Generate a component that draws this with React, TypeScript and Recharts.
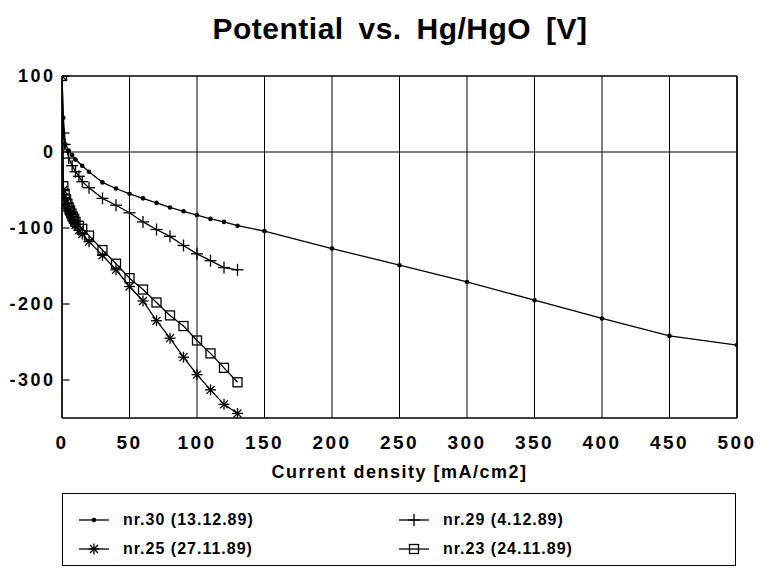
import { LineChart, Line, XAxis, YAxis, CartesianGrid, ReferenceLine } from "recharts"

const FONT = '"Liberation Sans", Arial, Helvetica, sans-serif'

// current density [mA/cm2] and potential [mV] per cell
const nr30X = [0, 1, 2.5, 5, 7.5, 10, 15, 20, 30, 40, 50, 60, 70, 80, 90, 100, 110, 120, 130, 150, 200, 250, 300, 350, 400, 450, 500]
const nr30Y = [100, 45, 10, 2, -4, -10, -18, -26, -40, -48, -55, -61, -67, -73, -78, -83, -88, -92, -97, -104, -127, -149, -171, -195, -219, -242, -254]

const nr29X = [0, 1, 2, 5, 7.5, 10, 12.5, 15, 20, 30, 40, 50, 60, 70, 80, 90, 100, 110, 120, 130]
const nr29Y = [100, 25, 10, -8, -18, -26, -32, -39, -47, -61, -70, -80, -92, -102, -111, -123, -134, -143, -152, -155]

const nr25X = [0, 1, 2, 3, 4, 5, 6, 7, 8, 9, 10, 12.5, 15, 20, 30, 40, 50, 60, 70, 80, 90, 100, 110, 120, 130]
const nr25Y = [100, -50, -60, -67, -72, -77, -81, -85, -89, -92, -96, -103, -108, -118, -136, -155, -177, -196, -222, -245, -270, -293, -313, -332, -344]

const nr23X = [0, 1, 2, 3, 4, 5, 6, 7, 8, 9, 10, 12.5, 15, 20, 30, 40, 50, 60, 70, 80, 90, 100, 110, 120, 130]
const nr23Y = [100, -45, -55, -62, -68, -73, -77, -81, -85, -88, -92, -97, -101, -110, -129, -147, -166, -181, -198, -215, -229, -248, -265, -284, -303]

const xTicks = [0, 50, 100, 150, 200, 250, 300, 350, 400, 450, 500]
const yTicks = [100, 0, -100, -200, -300]

const toPoints = (xs: number[], ys: number[]) => xs.map((x, i) => ({ x, y: ys[i] }))

type MarkProps = { cx?: number; cy?: number }

function DotMark({ cx = 0, cy = 0 }: MarkProps) {
  return <circle cx={cx} cy={cy} r={2.3} fill="#000" />
}

function PlusMark({ cx = 0, cy = 0 }: MarkProps) {
  const s = 6
  return (
    <g stroke="#000" strokeWidth={1.3}>
      <line x1={cx - s} x2={cx + s} y1={cy} y2={cy} />
      <line x1={cx} x2={cx} y1={cy - s} y2={cy + s} />
    </g>
  )
}

function StarMark({ cx = 0, cy = 0 }: MarkProps) {
  const s = 5.5
  const d = s * 0.72
  return (
    <g stroke="#000" strokeWidth={1.3}>
      <line x1={cx - s} x2={cx + s} y1={cy} y2={cy} />
      <line x1={cx} x2={cx} y1={cy - s} y2={cy + s} />
      <line x1={cx - d} x2={cx + d} y1={cy - d} y2={cy + d} />
      <line x1={cx - d} x2={cx + d} y1={cy + d} y2={cy - d} />
    </g>
  )
}

function SquareMark({ cx = 0, cy = 0 }: MarkProps) {
  return <rect x={cx - 4.5} y={cy - 4.5} width={9} height={9} fill="none" stroke="#000" strokeWidth={1.3} />
}

function YTick(props: any) {
  const { x, y, payload } = props
  return (
    <g>
      <text x={x} y={y} dy="0.355em" textAnchor="end" fontFamily={FONT} fontWeight="bold" fontSize={18} letterSpacing={2.5} fill="#000">
        {payload.value}
      </text>
      <line x1={x + 6.5} x2={x + 14} y1={y} y2={y} stroke="#000" strokeWidth={1.2} />
    </g>
  )
}

const series = [
  { name: "nr.30 (13.12.89)", xs: nr30X, ys: nr30Y, Mark: DotMark },
  { name: "nr.29 (4.12.89)", xs: nr29X, ys: nr29Y, Mark: PlusMark },
  { name: "nr.25 (27.11.89)", xs: nr25X, ys: nr25Y, Mark: StarMark },
  { name: "nr.23 (24.11.89)", xs: nr23X, ys: nr23Y, Mark: SquareMark },
]

function LegendItem({ name, Mark, left, top }: { name: string; Mark: (p: MarkProps) => any; left: number; top: number }) {
  return (
    <div style={{ position: "absolute", left, top, display: "flex", alignItems: "center", height: 20 }}>
      <svg width={32} height={16}>
        <line x1={1} x2={31} y1={8} y2={8} stroke="#000" strokeWidth={1.3} />
        <Mark cx={16} cy={8} />
      </svg>
      <span style={{ marginLeft: 13, fontFamily: FONT, fontWeight: "bold", fontSize: 16, letterSpacing: 1, color: "#000" }}>{name}</span>
    </div>
  )
}

export default function App() {
  return (
    <div style={{ position: "absolute", left: 0, top: 0, width: 760, height: 576, background: "#fff", overflow: "hidden" }}>
      <div
        style={{
          position: "absolute",
          left: 100,
          width: 600,
          top: 12,
          textAlign: "center",
          fontFamily: FONT,
          fontWeight: "bold",
          fontSize: 30,
          letterSpacing: 0.5,
          wordSpacing: 6,
          color: "#000",
        }}
      >
        Potential vs. Hg/HgO [V]
      </div>

      <LineChart width={760} height={576} margin={{ top: 76, right: 23, bottom: 98, left: 0 }}>
        <CartesianGrid vertical horizontal={false} stroke="#000" strokeWidth={1} />
        <XAxis
          type="number"
          dataKey="x"
          domain={[0, 500]}
          ticks={xTicks}
          allowDataOverflow
          height={60}
          tickSize={0}
          tickMargin={18}
          tickLine={false}
          axisLine={{ stroke: "#000", strokeWidth: 1.5 }}
          tick={{ fontFamily: FONT, fontWeight: "bold", fontSize: 19, letterSpacing: 2.5, fill: "#000" }}
          label={{
            value: "Current density [mA/cm2]",
            position: "insideBottom",
            offset: 0,
            style: { fontFamily: FONT, fontWeight: "bold", fontSize: 18, letterSpacing: 1.5, fill: "#000" },
          }}
        />
        <YAxis
          type="number"
          domain={[-350, 100]}
          ticks={yTicks}
          allowDataOverflow
          width={62}
          tickSize={0}
          tickMargin={6.5}
          tickLine={false}
          axisLine={{ stroke: "#000", strokeWidth: 1.5 }}
          tick={<YTick />}
        />
        <ReferenceLine y={100} stroke="#000" strokeWidth={1.5} />
        <ReferenceLine y={0} stroke="#000" strokeWidth={1.2} />
        <ReferenceLine x={500} stroke="#000" strokeWidth={1.5} />
        {series.map((s) => (
          <Line
            key={s.name}
            data={toPoints(s.xs, s.ys)}
            dataKey="y"
            name={s.name}
            type="linear"
            stroke="#000"
            strokeWidth={1.3}
            isAnimationActive={false}
            dot={(p: any) => <s.Mark key={p.index} cx={p.cx} cy={p.cy} />}
            activeDot={false}
          />
        ))}
      </LineChart>

      <div style={{ position: "absolute", left: 62, top: 493, width: 674, height: 73, border: "1.5px solid #000", boxSizing: "border-box" }}>
        <LegendItem name={series[0].name} Mark={series[0].Mark} left={15} top={16} />
        <LegendItem name={series[1].name} Mark={series[1].Mark} left={335} top={16} />
        <LegendItem name={series[2].name} Mark={series[2].Mark} left={15} top={45} />
        <LegendItem name={series[3].name} Mark={series[3].Mark} left={335} top={45} />
      </div>
    </div>
  )
}
